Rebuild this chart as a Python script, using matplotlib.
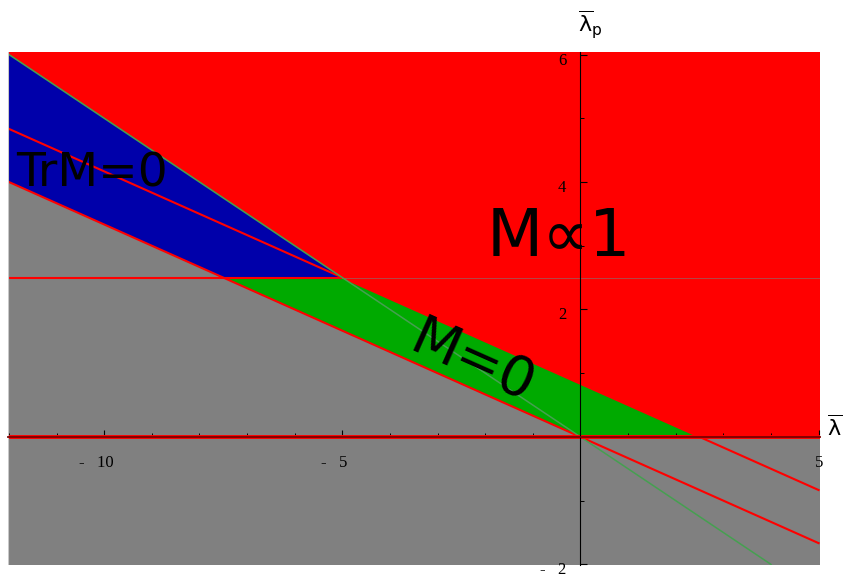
import matplotlib
matplotlib.use("Agg")
import matplotlib.pyplot as plt
from matplotlib.ticker import MultipleLocator

# boundary lines, given by their end points
green_line_x = [-12, 4]
green_line_y = [6, -2]
lower_line_x = [-12, 5]
lower_line_y = [4, -5 / 3]
upper_line_x = [-12, 5]
upper_line_y = [29 / 6, -5 / 6]
flat_level = 2.5
flat_split = -5

# region corners
red_x = [-12.1, -12, -5, 2.5, 5.1, 5.1, -12.1]
red_y = [6.1, 6, 2.5, 0, 0, 6.1, 6.1]
blue_x = [-12, -5, -7.5, -12]
blue_y = [6, 2.5, 2.5, 4]
green_x = [-7.5, -5, 2.5, 0]
green_y = [2.5, 2.5, 0, 0]

x_ticks = [-10, -5, 5]
y_ticks = [-2, 2, 4, 6]

RED = "#ff0000"
BLUE = "#0000aa"
GREEN = "#00aa00"
GRAY = "#808080"
SERIF = "Liberation Serif"

fig = plt.figure(figsize=(8.46, 5.75), dpi=100)
ax = fig.add_axes([8 / 846, 10 / 575, 812 / 846, 513 / 575])
ax.set_facecolor(GRAY)
ax.set_xlim(-12.02, 5.03)
ax.set_ylim(-2.01, 6.04)

ax.fill(red_x, red_y, color=RED, lw=0, zorder=1)
ax.fill(blue_x, blue_y, color=BLUE, lw=0, zorder=1)
ax.fill(green_x, green_y, color=GREEN, lw=0, zorder=1)

ax.plot(lower_line_x, lower_line_y, color=RED, lw=1.5, zorder=2)
ax.plot(upper_line_x, upper_line_y, color=RED, lw=1.5, zorder=2)
ax.plot([-12.1, flat_split], [flat_level, flat_level], color=RED, lw=1.5, zorder=2)
ax.plot([flat_split, 5.1], [flat_level, flat_level], color="#b04848", lw=0.7, zorder=2)
ax.plot(green_line_x, green_line_y, color="#45a050", lw=1.1, zorder=3)
ax.axhline(0, color=RED, lw=2.8, zorder=3)
ax.axvline(-12.02, color="#c8c8c8", lw=1.5, zorder=3)

# axes crossing at the origin, Mathematica style
for side in ["top", "right"]:
    ax.spines[side].set_visible(False)
ax.spines["left"].set_position(("data", 0))
ax.spines["bottom"].set_position(("data", 0))
ax.spines["left"].set_linewidth(0.8)
ax.spines["bottom"].set_linewidth(1.3)
ax.spines["bottom"].set_color("#7a0000")
ax.spines["left"].set_zorder(5)
ax.spines["bottom"].set_zorder(5)

ax.set_xticks(x_ticks)
ax.set_yticks(y_ticks)
ax.xaxis.set_minor_locator(MultipleLocator(1))
ax.yaxis.set_minor_locator(MultipleLocator(1))
ax.tick_params(which="major", direction="in", length=5, width=0.8, color="black",
               labelbottom=False, labelleft=False)
ax.tick_params(which="minor", direction="in", length=3, width=0.7, color="black")

for t in x_ticks:
    s = str(abs(t))
    label = "-   " + s if t < 0 else s
    ax.annotate(label, xy=(t, 0), xytext=(4.2 * len(s) + 1, -26), textcoords="offset pixels",
                ha="right", va="center", fontsize=12, family=SERIF)
for t in y_ticks:
    s = str(abs(t))
    label = "-   " + s if t < 0 else s
    ax.annotate(label, xy=(0, t), xytext=(-14, -6), textcoords="offset pixels",
                ha="right", va="center", fontsize=12, family=SERIF, annotation_clip=False)

ax.text(-11.85, 3.93, "TrM=0", fontsize=34, ha="left", va="baseline", zorder=6)
ax.text(-1.97, 2.84, "M\u221d1", fontsize=47, ha="left", va="baseline", zorder=6)
ax.text(-2.28, 1.17, "M=0", fontsize=40, rotation=-24, rotation_mode="anchor",
        ha="center", va="center", zorder=6)

fig.text(835 / 846, 1 - 427 / 575, r"$\overline{\mathrm{\lambda}}$", fontsize=16,
         ha="center", va="center")
fig.text(590 / 846, 1 - 25 / 575, r"$\overline{\mathrm{\lambda}}_{\mathrm{p}}$", fontsize=16,
         ha="center", va="center")

fig.savefig("out.png", dpi=100)
